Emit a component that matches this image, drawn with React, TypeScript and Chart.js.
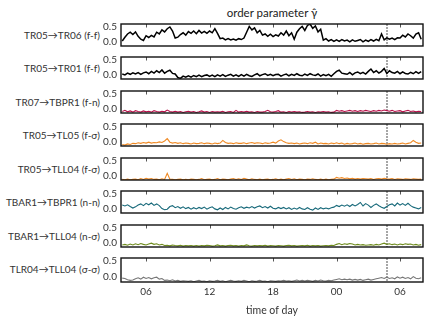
import React, { useEffect, useRef } from "react";
import { Chart, registerables } from "chart.js";
Chart.register(...registerables);

const FONT = "Lato, 'DejaVu Sans', sans-serif";
const TEXT = "#333333";

// time sampling (hours since midnight of first day)
const startHour = 3.75;
const stepHour = 0.25;
const xMin = 3.63;
const xMax = 32.17;
const tickHours = [6, 12, 18, 24, 30];
const tickLabels = ["06", "12", "18", "00", "06"];
const markerHour = 28.75;
const yMin = -0.15;
const yMax = 0.6;
const yTicks = [0, 0.5];

const panelLabels = [
  "TR05→TR06 (f-f)",
  "TR05→TR01 (f-f)",
  "TR07→TBPR1 (f-n)",
  "TR05→TL05 (f-σ)",
  "TR05→TLL04 (f-σ)",
  "TBAR1→TBPR1 (n-n)",
  "TBAR1→TLL04 (n-σ)",
  "TLR04→TLL04 (σ-σ)",
];
const panelColors = ["#000000", "#000000", "#b8124a", "#f08a24", "#f08a24", "#17697a", "#6f8c1e", "#777777"];

const p1 = [
  0.02,
  0.15, 0.26, 0.32, 0.24,
  0.33, 0.18, 0.08, 0.04,
  0.2, 0.14, 0.21, 0.16,
  0.32, 0.26, 0.4, 0.33,
  0.44, 0.5, 0.36, 0.12,
  0.15, 0.24, 0.3, 0.22,
  0.34, 0.28, 0.36, 0.27,
  0.38, 0.29, 0.35, 0.28,
  0.36, 0.3, 0.44, 0.28,
  0.1, 0.12, 0.06, 0.1,
  0.06, 0.09, 0.05, 0.1,
  0.07, 0.12, 0.32, 0.52,
  0.4, 0.47, 0.3, 0.38,
  0.22, 0.26, 0.18, 0.25,
  0.17, 0.23, 0.19, 0.3,
  0.22, 0.36, 0.2, 0.3,
  0.08, 0.32, 0.44, 0.52,
  0.38, 0.55, 0.6, 0.45,
  0.53, 0.33, 0.42, 0.05,
  0.1, 0.02, 0.07, 0.01,
  0.06, 0.01, 0.07, 0.02,
  0.05, -0.01, 0.06, 0.01,
  0.04, 0.07, -0.01, 0.05,
  0.01, 0.07, 0.02, 0.08,
  0.03, 0.26, 0.06, 0.13,
  0.08, 0.12, 0.07, 0.13,
  0.12, 0.22, 0.16, 0.26,
  0.2, 0.12, 0.26, 0.3,
  0.08,
];
const p2 = [
  0.02,
  -0.01, 0.05, 0.01, 0.06,
  0.02, 0.07, 0.01, 0.06,
  0.09, 0.03, 0.11, 0.05,
  0.13, 0.07, 0.16, 0.05,
  0.11, 0.15, 0.04, 0.02,
  -0.1, -0.13, -0.05, -0.09,
  -0.04, -0.09, -0.03, -0.07,
  -0.02, -0.07, -0.03, -0.01,
  -0.06, -0.02, -0.07, -0.01,
  -0.05, 0.0, -0.06, -0.02,
  0.01, -0.05, -0.01, -0.06,
  0.0, -0.05, 0.01, -0.04,
  -0.06, -0.01, 0.03, -0.04,
  0.0, 0.03, -0.03, 0.01,
  -0.04, 0.0, 0.01, -0.05,
  -0.01, 0.02, -0.04, 0.01,
  -0.03, 0.03, -0.02, -0.04,
  0.02, -0.03, 0.03, -0.01,
  -0.03, 0.02, -0.05, 0.0,
  -0.04, 0.01, -0.06, 0.03,
  0.11, 0.15, 0.05, 0.03,
  0.01, 0.07, -0.01, 0.06,
  0.09, 0.03, 0.08, 0.02,
  0.11, 0.19, 0.07, 0.13,
  0.05, 0.11, 0.21, 0.04,
  0.13, 0.07, 0.05, 0.11,
  0.03, 0.09, 0.04, 0.02,
  0.08, 0.03, 0.1, 0.04,
  0.1,
];
const p3 = [
  -0.1,
  -0.06, -0.11, -0.08, -0.12,
  -0.07, -0.1, -0.12, -0.08,
  -0.11, -0.09, -0.12, -0.07,
  -0.1, -0.12, -0.09, -0.11,
  -0.05, -0.1, -0.12, -0.09,
  -0.12, -0.1, -0.13, -0.11,
  -0.09, -0.12, -0.1, -0.13,
  -0.11, -0.08, -0.12, -0.1,
  -0.13, -0.1, -0.12, -0.11,
  -0.12, -0.09, -0.13, -0.11,
  -0.1, -0.13, -0.06, -0.12,
  -0.1, -0.12, -0.09, -0.12,
  -0.11, -0.13, -0.1, -0.12,
  -0.12, -0.1, -0.06, -0.11,
  -0.12, -0.1, -0.07, -0.12,
  -0.11, -0.13, -0.1, -0.12,
  -0.1, -0.12, -0.11, -0.13,
  -0.12, -0.1, -0.12, -0.11,
  -0.13, -0.11, -0.12, -0.1,
  -0.12, -0.11, -0.13, -0.12,
  -0.06, -0.09, -0.07, -0.1,
  -0.08, -0.06, -0.09, -0.07,
  -0.1, -0.07, -0.09, -0.06,
  -0.08, -0.1, -0.07, -0.09,
  -0.06, -0.08, -0.05, -0.07,
  -0.09, -0.06, -0.1, -0.08,
  -0.07, -0.11, -0.08, -0.06,
  -0.1, -0.08, -0.11, -0.09,
  -0.1,
];
const p4 = [
  -0.1,
  -0.12, -0.08, -0.1, -0.06,
  -0.07, -0.04, -0.06, -0.03,
  -0.05, -0.02, -0.05, -0.03,
  -0.04, -0.01, -0.03, 0.02,
  0.1, -0.02, -0.05, -0.03,
  -0.06, -0.04, -0.07, -0.05,
  -0.06, -0.08, -0.05, -0.07,
  -0.06, -0.04, -0.07, -0.05,
  -0.06, -0.08, -0.05, -0.07,
  -0.05, 0.04, -0.03, -0.06,
  -0.05, -0.07, -0.04, -0.06,
  -0.06, -0.04, -0.07, -0.05,
  -0.03, -0.06, -0.04, -0.05,
  -0.07, -0.04, -0.06, -0.05,
  -0.02, -0.05, 0.02, 0.06,
  0.0, -0.04, -0.06, -0.05,
  -0.07, -0.05, -0.08, -0.06,
  -0.05, -0.07, -0.04, -0.06,
  -0.02, -0.08, -0.05, -0.07,
  -0.06, -0.08, -0.05, -0.07,
  -0.04, -0.07, -0.05, -0.09,
  -0.06, -0.08, -0.07, -0.05,
  -0.08, -0.06, -0.09, -0.07,
  -0.06, -0.08, -0.07, -0.05,
  -0.08, -0.06, -0.07, -0.09,
  -0.07, -0.08, -0.06, -0.08,
  -0.07, -0.05, -0.08, -0.06,
  -0.04, 0.04, -0.02, -0.06,
  -0.05,
];
const p5 = [
  -0.13,
  -0.14, -0.12, -0.14, -0.13,
  -0.12, -0.14, -0.1, -0.13,
  -0.09, -0.12, -0.1, -0.13,
  -0.12, -0.14, -0.11, -0.13,
  0.08, -0.12, -0.13, -0.14,
  -0.13, -0.12, -0.14, -0.13,
  -0.14, -0.12, -0.13, -0.14,
  -0.13, -0.1, -0.14, -0.13,
  -0.12, -0.14, -0.13, -0.1,
  -0.14, -0.12, -0.13, -0.14,
  -0.12, -0.1, -0.13, -0.11,
  -0.13, -0.09, -0.12, -0.14,
  -0.11, -0.13, -0.14, -0.12,
  -0.14, -0.13, -0.12, -0.14,
  -0.13, -0.11, -0.14, -0.12,
  -0.14, -0.12, -0.1, -0.13,
  -0.11, -0.14, -0.12, -0.13,
  -0.14, -0.12, -0.13, -0.11,
  -0.13, -0.14, -0.12, -0.14,
  -0.12, -0.14, -0.13, -0.12,
  -0.06, -0.09, -0.07, -0.1,
  -0.08, -0.11, -0.09, -0.12,
  -0.1, -0.12, -0.1, -0.11,
  -0.12, -0.1, -0.13, -0.11,
  -0.1, -0.12, -0.09, -0.11,
  -0.12, -0.1, -0.13, -0.11,
  -0.12, -0.13, -0.11, -0.12,
  -0.13, -0.11, -0.12, -0.13,
  -0.12,
];
const p6 = [
  0.12,
  0.09, 0.13, 0.07, 0.02,
  0.06, 0.12, 0.16, 0.1,
  0.18, 0.13, 0.19, 0.11,
  0.16, 0.1, 0.0, -0.04,
  -0.02, 0.07, 0.1, 0.03,
  0.07, 0.01, 0.06, 0.0,
  0.04, -0.02, 0.03, -0.01,
  0.04, 0.0, 0.05, -0.02,
  0.03, 0.06, -0.01, -0.04,
  0.02, -0.03, 0.04, -0.01,
  0.05, 0.0, -0.02, 0.03,
  0.06, 0.01, 0.05, 0.02,
  0.07, 0.02, 0.06, 0.09,
  0.03, 0.07, 0.02, 0.08,
  0.01, -0.01, 0.04, 0.0,
  0.04, -0.01, 0.03, -0.03,
  0.02, -0.02, 0.04, -0.01,
  -0.03, 0.03, -0.02, -0.05,
  0.02, -0.03, 0.03, -0.01,
  0.02, -0.01, 0.03, 0.05,
  0.11, 0.07, 0.12, 0.08,
  0.13, 0.07, 0.14, 0.09,
  0.14, 0.21, 0.09, 0.17,
  0.12, 0.04, 0.11, 0.16,
  0.1, 0.05, 0.01, 0.07,
  0.13, 0.16, 0.09, 0.19,
  0.12, 0.17, 0.11, 0.18,
  0.1, 0.05, 0.02, -0.01,
  0.04,
];
const p7 = [
  -0.08,
  -0.06, -0.09, -0.05, -0.08,
  -0.04, -0.07, -0.03, -0.06,
  -0.08, -0.05, -0.02, -0.06,
  -0.04, -0.08, -0.06, -0.1,
  -0.09, -0.11, -0.08, -0.1,
  -0.11, -0.09, -0.12, -0.1,
  -0.11, -0.1, -0.12, -0.1,
  -0.12, -0.1, -0.11, -0.09,
  -0.1, -0.12, -0.11, -0.08,
  -0.11, -0.1, -0.12, -0.1,
  -0.09, -0.11, -0.1, -0.12,
  -0.1, -0.11, -0.08, -0.11,
  -0.12, -0.1, -0.11, -0.1,
  -0.11, -0.09, -0.12, -0.1,
  -0.11, -0.12, -0.1, -0.11,
  -0.12, -0.1, -0.09, -0.11,
  -0.1, -0.12, -0.11, -0.1,
  -0.11, -0.09, -0.12, -0.1,
  -0.11, -0.1, -0.12, -0.11,
  -0.1, -0.11, -0.09, -0.1,
  -0.06, -0.03, -0.07, -0.04,
  -0.06, -0.03, -0.05, -0.08,
  -0.06, -0.08, -0.07, -0.09,
  -0.08, -0.07, -0.09, -0.06,
  -0.08, -0.05, -0.02, -0.06,
  -0.04, -0.07, -0.05, -0.08,
  -0.05, -0.07, -0.04, -0.06,
  -0.05, -0.08, -0.06, -0.09,
  -0.07,
];
const p8 = [
  -0.03,
  -0.04, -0.08, -0.1, -0.09,
  -0.05, -0.02, -0.06, 0.0,
  -0.04, -0.01, -0.05, -0.02,
  0.0, -0.06, -0.04, -0.1,
  -0.09, -0.11, -0.08, -0.12,
  -0.1, -0.13, -0.11, -0.12,
  -0.13, -0.11, -0.14, -0.12,
  -0.1, -0.13, -0.12, -0.14,
  -0.11, -0.13, -0.12, -0.1,
  -0.13, -0.11, -0.14, -0.12,
  -0.1, -0.12, -0.13, -0.11,
  -0.13, -0.1, -0.12, -0.14,
  -0.11, -0.13, -0.12, -0.1,
  -0.13, -0.12, -0.14, -0.11,
  -0.12, -0.13, -0.11, -0.12,
  -0.1, -0.12, -0.11, -0.13,
  -0.11, -0.09, -0.12, -0.1,
  -0.12, -0.1, -0.11, -0.13,
  -0.1, -0.12, -0.09, -0.11,
  -0.12, -0.1, -0.11, -0.09,
  -0.07, -0.05, -0.08, -0.06,
  -0.08, -0.06, -0.09, -0.07,
  -0.09, -0.07, -0.1, -0.08,
  -0.06, -0.09, -0.07, -0.05,
  -0.03, -0.01, -0.04, 0.0,
  -0.04, -0.02, -0.05, 0.01,
  -0.03, 0.0, -0.04, -0.01,
  -0.05, 0.02, -0.03, -0.05,
  -0.02,
];
const seriesList = [p1, p2, p3, p4, p5, p6, p7, p8];

// layout
const W = 431;
const H = 319;
const AREA_LEFT = 121;
const AREA_RIGHT = 423;
const panelTops = [22, 55, 89, 122, 156, 189, 223, 256];
const PANEL_H = 26;
const PAD = 8;

const decoPlugin = {
  id: "panelDeco",
  beforeDatasetsDraw(chart: any) {
    const { ctx, chartArea } = chart;
    const x = Math.round(chart.scales.x.getPixelForValue(markerHour));
    ctx.save();
    ctx.strokeStyle = "#a6a6a6";
    ctx.lineWidth = 2;
    ctx.setLineDash([2, 1]);
    ctx.beginPath();
    ctx.moveTo(x, chartArea.top);
    ctx.lineTo(x, chartArea.bottom);
    ctx.stroke();
    ctx.restore();
  },
  afterDatasetsDraw(chart: any) {
    const { ctx, chartArea } = chart;
    ctx.save();
    ctx.strokeStyle = "#555555";
    ctx.lineWidth = 1;
    for (const h of tickHours) {
      const x = Math.round(chart.scales.x.getPixelForValue(h)) + 0.5;
      ctx.beginPath();
      ctx.moveTo(x, chartArea.top);
      ctx.lineTo(x, chartArea.top + 3.5);
      ctx.stroke();
    }
    ctx.strokeStyle = "#111111";
    ctx.lineWidth = 1.4;
    ctx.strokeRect(chartArea.left, chartArea.top, chartArea.right - chartArea.left, chartArea.bottom - chartArea.top);
    ctx.restore();
  },
};

function Panel({ index }: { index: number }) {
  const ref = useRef<HTMLCanvasElement | null>(null);
  const isLast = index === seriesList.length - 1;
  const top = panelTops[index] - PAD;
  const height = isLast ? H - top : PANEL_H + 2 * PAD;

  useEffect(() => {
    if (!ref.current) return;
    const values = seriesList[index];
    const points = values.map((v, i) => ({ x: startHour + stepHour * i, y: v }));
    const chart = new Chart(ref.current, {
      type: "line",
      data: {
        datasets: [
          {
            data: points,
            borderColor: panelColors[index],
            borderWidth: index < 2 ? 1.5 : 1.1,
            pointRadius: 0,
            tension: 0,
            fill: false,
          },
        ],
      },
      options: {
        responsive: false,
        maintainAspectRatio: false,
        animation: false,
        events: [],
        layout: { padding: { left: 0, right: W - AREA_RIGHT, top: PAD, bottom: isLast ? 0 : PAD } },
        plugins: { legend: { display: false }, tooltip: { enabled: false }, title: { display: false } },
        scales: {
          x: {
            type: "linear",
            min: xMin,
            max: xMax,
            display: isLast,
            grid: { display: false, drawTicks: false },
            border: { display: false },
            afterBuildTicks: (s: any) => {
              s.ticks = tickHours.map((v) => ({ value: v }));
            },
            afterFit: (s: any) => {
              if (isLast) s.height = H - top - PAD - PANEL_H;
            },
            ticks: {
              autoSkip: false,
              maxRotation: 0,
              padding: 4,
              color: TEXT,
              font: { family: FONT, size: 10 },
              callback: (v: any) => tickLabels[tickHours.indexOf(Number(v))] ?? "",
            },
            title: {
              display: true,
              text: "time of day",
              color: TEXT,
              font: { family: FONT, size: 10.5 },
              padding: { top: 0, bottom: 2 },
            },
          },
          y: {
            type: "linear",
            min: yMin,
            max: yMax,
            grid: { display: false, drawTicks: false },
            border: { display: false },
            afterBuildTicks: (s: any) => {
              s.ticks = yTicks.map((v) => ({ value: v }));
            },
            afterFit: (s: any) => {
              s.width = AREA_LEFT;
            },
            ticks: {
              padding: 4,
              color: TEXT,
              font: { family: FONT, size: 10 },
              callback: (v: any) => Number(v).toFixed(1),
            },
          },
        },
      },
      plugins: [decoPlugin],
    } as any);
    return () => chart.destroy();
  }, [index]);

  return (
    <canvas
      ref={ref}
      width={W}
      height={height}
      style={{ position: "absolute", left: 0, top, width: W, height }}
    />
  );
}

export default function App() {
  return (
    <div style={{ position: "absolute", left: 0, top: 0, width: W, height: H, background: "#ffffff", overflow: "hidden", fontFamily: FONT, color: TEXT }}>
      <div
        style={{
          position: "absolute",
          left: AREA_LEFT,
          width: AREA_RIGHT - AREA_LEFT,
          top: 5,
          textAlign: "center",
          fontSize: 11.5,
          lineHeight: "16px",
          color: "#222",
        }}
      >
        order parameter γ̂
      </div>
      {panelLabels.map((label, i) => (
        <div
          key={"l" + i}
          style={{
            position: "absolute",
            left: 0,
            width: 100,
            top: panelTops[i] + PANEL_H / 2 - 7.5,
            textAlign: "right",
            fontSize: 10,
            lineHeight: "14px",
            whiteSpace: "nowrap",
          }}
        >
          {label}
        </div>
      ))}
      {seriesList.map((_, i) => (
        <Panel key={i} index={i} />
      ))}
    </div>
  );
}
